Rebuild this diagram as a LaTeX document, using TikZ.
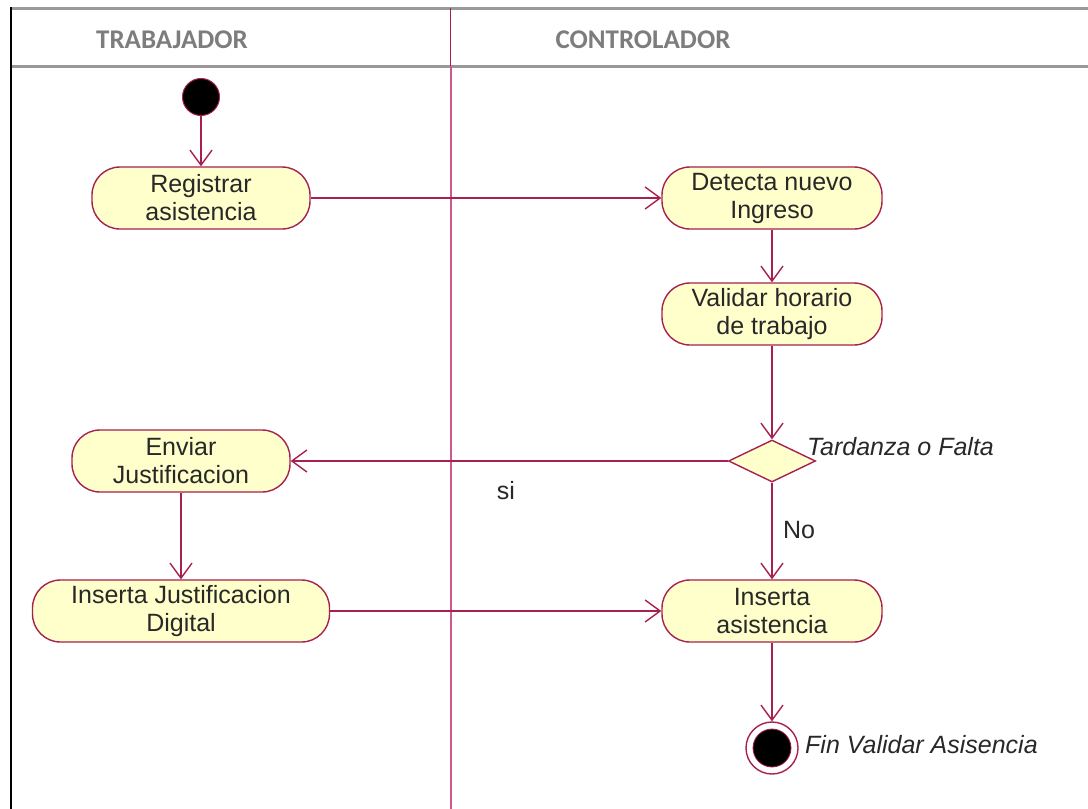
\documentclass[tikz,border=0pt]{standalone}
\usepackage{fontspec}
\setmainfont{Liberation Sans}
\newfontfamily\headfont{Carlito}
\usetikzlibrary{arrows.meta,shapes.geometric}
\definecolor{umlline}{RGB}{168,32,80}
\definecolor{umlfill}{RGB}{255,255,204}
\definecolor{lanepink}{RGB}{205,90,140}
\definecolor{headgray}{RGB}{125,125,125}
\definecolor{txt}{RGB}{40,40,40}
\begin{document}
\begin{tikzpicture}[x=1pt,y=-1pt,
  action/.style={draw=umlline, line width=1.4pt, fill=umlfill, rounded corners=28pt,
    minimum height=62pt, inner sep=0pt, align=center, text=txt,
    font=\fontsize{25}{28}\selectfont},
  flow/.style={draw=umlline, line width=1.6pt,
    -{Straight Barb[length=15pt,width=22pt,line width=1.4pt]}},
  lanehead/.style={font=\headfont\bfseries\fontsize{27}{30}\selectfont, text=headgray},
  note/.style={font=\itshape\fontsize{25}{28}\selectfont, text=txt, inner sep=0pt},
  guard/.style={font=\fontsize{25}{28}\selectfont, text=txt, inner sep=0pt}]
\useasboundingbox (0,0) rectangle (1088,809);
\fill[white] (0,0) rectangle (1088,809);

% swimlane frame
\draw[line width=3pt, color=gray!80] (11,8) -- (1088,8);
\draw[line width=3pt, color=gray!80] (11,66) -- (1088,66);
\draw[line width=2.2pt, black] (11,7) -- (11,809);
\draw[line width=1pt, umlline] (450,8) -- (450,66);
\draw[line width=2.8pt, lanepink] (451,66) -- (451,809);

\node[lanehead] (laneA) at (172,40) {TRABAJADOR};
\node[lanehead] (laneB) at (643,40) {CONTROLADOR};

% start node
\node[circle, fill=black, draw=umlline, line width=1pt, minimum size=37pt, inner sep=0pt] (start) at (201,97) {};

% actions
\node[action, minimum width=218pt] (reg) at (201,198) {Registrar\\asistencia};
\node[action, minimum width=220pt] (det) at (772,198) {Detecta nuevo\\Ingreso};
\node[action, minimum width=220pt] (val) at (772,314) {Validar horario\\de trabajo};
\node[diamond, draw=umlline, line width=1.4pt, fill=umlfill, inner sep=0pt,
      minimum width=87pt, minimum height=42pt, aspect=2.07] (dec) at (772,461) {};
\node[action, minimum width=218pt] (env) at (181,461) {Enviar\\Justificacion};
\node[action, minimum width=297pt] (ijd) at (181,611) {Inserta Justificacion\\Digital};
\node[action, minimum width=220pt] (ins) at (772,611) {Inserta\\asistencia};

% final node
\node[circle, draw=umlline, line width=1.4pt, fill=white, minimum size=52pt, inner sep=0pt] (fin) at (772,748) {};
\node[circle, fill=black, draw=umlline, line width=0.8pt, minimum size=38pt, inner sep=0pt] (finc) at (fin.center) {};

% labels
\node[note, anchor=west] (lblDec) at (807,447) {Tardanza o Falta};
\node[note, anchor=west] (lblFin) at (805,745) {Fin Validar Asisencia};
\node[guard] (lblSi) at (506,491) {si};
\node[guard] (lblNo) at (799,530) {No};

% control flow
\draw[flow] (start) -- (reg);
\draw[flow] (reg) -- (det);
\draw[flow] (det) -- (val);
\draw[flow] (val) -- (dec);
\draw[flow] (dec) -- (env);
\draw[flow] (dec) -- (ins);
\draw[flow] (env) -- (ijd);
\draw[flow] (ijd) -- (ins);
\draw[flow] (ins) -- (fin);
\end{tikzpicture}
\end{document}
